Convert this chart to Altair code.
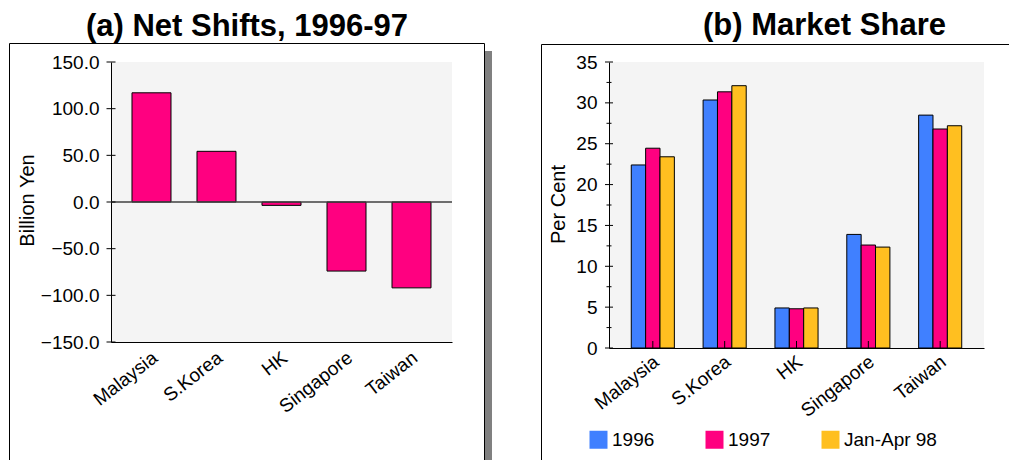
import altair as alt
import pandas as pd

# ---------------- data ----------------
countries = ["Malaysia", "S.Korea", "HK", "Singapore", "Taiwan"]
net_shift = [117.0, 54.3, -3.6, -74.0, -92.0]

series = ["1996", "1997", "Jan-Apr 98"]
share_1996 = [22.4, 30.35, 4.9, 13.9, 28.5]
share_1997 = [24.45, 31.35, 4.8, 12.6, 26.8]
share_98 = [23.4, 32.1, 4.9, 12.35, 27.2]
series_colors = ["#4080ff", "#ff0080", "#ffbf20"]
bar_a_color = "#ff0080"

yen_ticks = [-150, -100, -50, 0, 50, 100, 150]
share_ticks = [0, 5, 10, 15, 20, 25, 30, 35]
share_minor = [2.5, 7.5, 12.5, 17.5, 22.5, 27.5, 32.5]

title_a = "(a) Net Shifts, 1996-97"
title_b = "(b) Market Share"
ytitle_a = "Billion Yen"
ytitle_b = "Per Cent"

FONT = "Liberation Sans"
WA, HA = 341, 280
WB, HB = 375, 286


def one(**kw):
    return pd.DataFrame([kw])


def frame_layers(left, top, right, bottom, shadow=None, right_side=False):
    layers = []
    if shadow is not None:
        sx, sx2, sy = shadow
        layers.append(
            alt.Chart(one(k=0)).mark_rect(color="#808080").encode(
                x=alt.value(sx), x2=alt.value(sx2), y=alt.value(sy), y2=alt.value(bottom)
            )
        )
    layers.append(
        alt.Chart(one(k=0)).mark_rule(color="black", strokeWidth=1).encode(
            x=alt.value(left), y=alt.value(top), y2=alt.value(bottom)
        )
    )
    layers.append(
        alt.Chart(one(k=0)).mark_rule(color="black", strokeWidth=1).encode(
            x=alt.value(left), x2=alt.value(right), y=alt.value(top)
        )
    )
    if right_side:
        layers.append(
            alt.Chart(one(k=0)).mark_rule(color="black", strokeWidth=1).encode(
                x=alt.value(right), y=alt.value(top), y2=alt.value(bottom)
            )
        )
    return layers


def title_layer(text, x, y):
    return alt.Chart(pd.DataFrame({"t": [text]})).mark_text(
        font=FONT, fontSize=31, fontWeight="bold", align="center",
        baseline="alphabetic", color="black"
    ).encode(text="t:N", x=alt.value(x), y=alt.value(y))


def x_axis(pad):
    return alt.Axis(
        labelAngle=-38, labelAlign="right", labelBaseline="top", labelPadding=pad,
        labelOffset=-2, ticks=False, domainColor="black", labelFontSize=19,
        labelFont=FONT, labelColor="black", grid=False, title=None,
    )


def y_axis(values, fmt, title, tx, ty):
    return alt.Axis(
        values=values, format=fmt, ticks=False, labelPadding=12, grid=False,
        domainColor="black", labelFontSize=19, labelFont=FONT, labelColor="black",
        title=title, titleFont=FONT, titleFontSize=20, titleFontWeight="normal",
        titleColor="black", titleAngle=270, titleX=tx, titleY=ty,
        titleAlign="center", titleBaseline="middle",
    )


# ---------------- panel (a) ----------------
df_a = pd.DataFrame({"country": countries, "value": net_shift})

x_a = alt.X("country:N", sort=countries,
            scale=alt.Scale(paddingInner=0.4, paddingOuter=0.323), axis=x_axis(6))
y_a = alt.Y("value:Q", scale=alt.Scale(domain=[-150, 150], nice=False),
            axis=y_axis(yen_ticks, ".1f", ytitle_a, -84, 138))

bars_a = alt.Chart(df_a).mark_bar(color=bar_a_color, stroke="black", strokeWidth=1).encode(
    x=x_a, y=y_a
)
zero_a = alt.Chart(pd.DataFrame({"value": [0]})).mark_rule(color="#404040", strokeWidth=1.5).encode(
    y=y_a
)
ticks_a = alt.Chart(pd.DataFrame({"value": yen_ticks})).mark_tick(
    orient="horizontal", size=9, thickness=1, color="black", opacity=1
).encode(y=y_a, x=alt.value(0))

anchor = alt.Chart(one(k=0)).mark_rect(opacity=0).encode(
    x=alt.value(-111), x2=alt.value(-110), y=alt.value(-62), y2=alt.value(-61)
)

panel_a = alt.layer(
    *frame_layers(-101.5, -18.5, 373.5, 398, shadow=(374, 381, -11), right_side=True),
    anchor, bars_a, zero_a, ticks_a,
    title_layer(title_a, 136, -26),
).properties(width=WA, height=HA)

# ---------------- panel (b) ----------------
rows = []
for s, vals in zip(series, [share_1996, share_1997, share_98]):
    for c, v in zip(countries, vals):
        rows.append({"country": c, "series": s, "share": v})
df_b = pd.DataFrame(rows)

x_b = alt.X("country:N", sort=countries,
            scale=alt.Scale(paddingInner=0.4, paddingOuter=0.31), axis=x_axis(4))
y_b = alt.Y("share:Q", scale=alt.Scale(domain=[0, 35], nice=False),
            axis=y_axis(share_ticks, "d", ytitle_b, -50.7, 142))

bars_b = alt.Chart(df_b).mark_bar(stroke="black", strokeWidth=1).encode(
    x=x_b,
    y=y_b,
    xOffset=alt.XOffset("series:N", sort=series,
                        scale=alt.Scale(paddingInner=0, paddingOuter=0)),
    color=alt.Color(
        "series:N", sort=series,
        scale=alt.Scale(domain=series, range=series_colors),
        legend=alt.Legend(
            title=None, orient="none", legendX=478, legendY=368,
            direction="horizontal", symbolType="square", symbolSize=324,
            symbolStrokeWidth=0, symbolOpacity=1, labelFont=FONT,
            labelFontSize=19, labelColor="black", labelOffset=4,
            columnPadding=50, padding=0,
        ),
    ),
)
ticks_b = alt.Chart(pd.DataFrame({"share": share_ticks})).mark_tick(
    orient="horizontal", size=8, thickness=1, color="black", opacity=1
).encode(y=y_b, x=alt.value(0))
minor_b = alt.Chart(pd.DataFrame({"share": share_minor})).mark_tick(
    orient="horizontal", size=5, thickness=1, color="black", opacity=1
).encode(y=y_b, x=alt.value(0))
xticks_b = alt.Chart(pd.DataFrame({"country": countries})).mark_tick(
    orient="vertical", size=7, thickness=1, color="black", opacity=1
).encode(x=x_b, y=alt.value(HB - 3.5))

panel_b = alt.layer(
    *frame_layers(-67.5, -17.5, 400, 398),
    bars_b, ticks_b, minor_b, xticks_b,
    title_layer(title_b, 215.5, -27),
).properties(width=WB, height=HB)

chart = alt.hconcat(panel_a, panel_b, spacing=157, bounds="flush").properties(
    padding=0, background="white"
).configure_view(fill="#f4f4f4", strokeWidth=0)

chart.save("out.html", embed_options={"renderer": "svg", "actions": False})
